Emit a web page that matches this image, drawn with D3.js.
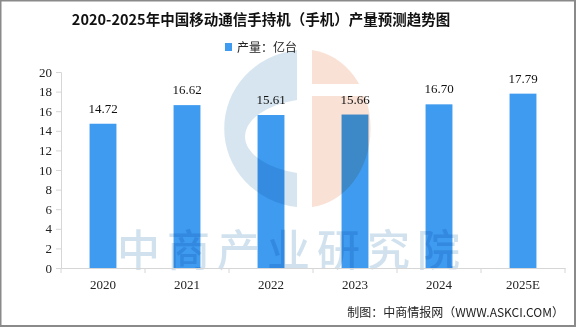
<!doctype html>
<html lang="zh">
<head>
<meta charset="UTF-8">
<title>手机产量预测</title>
<style>
  body { margin: 0; background: #fff; }
  svg { display: block; }
  text { font-family: "Noto Sans CJK SC", sans-serif; }
  .num { font-family: "Liberation Serif", "DejaVu Serif", serif; }
</style>
</head>
<body>
<div id="chart"></div>
<script src="https://d3js.org/d3.v7.min.js"></script>
<script>
const years = ['2020', '2021', '2022', '2023', '2024', '2025E']
const output = [14.72, 16.62, 15.61, 15.66, 16.70, 17.79]
const yTicks = [0, 2, 4, 6, 8, 10, 12, 14, 16, 18, 20]

const width = 576
const height = 327
const margin = {top: 72, right: 11, bottom: 59, left: 61}

const svg = d3.select('#chart').append('svg')
  .attr('width', width)
  .attr('height', height)

svg.append('rect')
  .attr('x', 0.5).attr('y', 0.5)
  .attr('width', width - 1.5).attr('height', height - 1.5)
  .attr('fill', '#fff')
  .attr('stroke', '#8a8a8a')
  .attr('stroke-width', 2)

const x = d3.scaleBand().domain(years)
  .range([margin.left, width - margin.right])
  .paddingInner(0.68).paddingOuter(0.34)
const y = d3.scaleLinear().domain([0, 20])
  .range([height - margin.bottom, margin.top])

// watermark (drawn first, kept out of the label area)
const wm = svg.append('g')
wm.append('path')
  .attr('d', 'M297,50 A82,79 0 0 0 297,207 L297,173 A72,38 0 0 1 297,100 Z')
  .attr('fill', '#cfe0ec').attr('opacity', 0.85)
wm.append('path')
  .attr('d', 'M312,50 A66,79 0 0 1 312,207 Z')
  .attr('fill', '#f8dccf').attr('opacity', 0.85)
wm.append('rect')
  .attr('x', 312).attr('y', 84).attr('width', 70).attr('height', 12)
  .attr('fill', '#fff')
wm.append('text')
  .attr('x', 117).attr('y', 266)
  .attr('font-size', 43)
  .attr('font-weight', 500)
  .attr('letter-spacing', 7)
  .attr('fill', '#c6dbeb').attr('opacity', 0.8)
  .text('中商产业研究院')

// y axis
const yAxis = svg.append('g')
  .attr('transform', `translate(${margin.left},0)`)
  .call(d3.axisLeft(y).tickValues(yTicks).tickSize(5).tickPadding(4))
yAxis.select('.domain').attr('stroke', '#d6d6d6')
yAxis.selectAll('.tick line').attr('stroke', '#d6d6d6')
yAxis.selectAll('.tick text').attr('class', 'num')
  .attr('font-size', 13).attr('fill', '#222')

// x axis, ticks at band edges
const xAxis = svg.append('g')
  .attr('transform', `translate(0,${y(0)})`)
  .call(d3.axisBottom(x).tickSize(0).tickPadding(12))
xAxis.select('.domain').attr('stroke', '#d6d6d6')
xAxis.selectAll('.tick text').attr('class', 'num')
  .attr('font-size', 13).attr('fill', '#222')
const step = x.step()
const edges = d3.range(years.length + 1).map(i => margin.left + i * step)
xAxis.selectAll('.edge').data(edges).enter().append('line')
  .attr('x1', d => d).attr('x2', d => d)
  .attr('y1', 0).attr('y2', 5)
  .attr('stroke', '#d6d6d6')

// bars, multiplied so the watermark shows through like the original
svg.selectAll('.bar').data(output).enter().append('rect')
  .attr('class', 'bar')
  .attr('x', (d, i) => x(years[i]))
  .attr('y', d => y(d))
  .attr('width', x.bandwidth())
  .attr('height', d => y(0) - y(d))
  .attr('fill', '#3e9bef')
  .style('mix-blend-mode', 'multiply')

svg.selectAll('.val').data(output).enter().append('text')
  .attr('class', 'num')
  .attr('x', (d, i) => x(years[i]) + x.bandwidth() / 2)
  .attr('y', d => y(d) - 11)
  .attr('text-anchor', 'middle')
  .attr('font-size', 13)
  .attr('fill', '#111')
  .text(d => d.toFixed(2))

// title & legend
svg.append('text')
  .attr('x', 261).attr('y', 25)
  .attr('text-anchor', 'middle')
  .attr('font-size', 14.5).attr('font-weight', 'bold')
  .attr('fill', '#111')
  .text('2020-2025年中国移动通信手持机（手机）产量预测趋势图')

svg.append('rect')
  .attr('x', 225).attr('y', 43).attr('width', 7).attr('height', 8)
  .attr('fill', '#3e9bef')
svg.append('text')
  .attr('x', 237).attr('y', 52)
  .attr('font-size', 12).attr('fill', '#222')
  .text('产量：亿台')

svg.append('text')
  .attr('x', 564).attr('y', 317)
  .attr('text-anchor', 'end')
  .attr('font-size', 12).attr('fill', '#222')
  .text('制图：中商情报网（WWW.ASKCI.COM）')
</script>
</body>
</html>
